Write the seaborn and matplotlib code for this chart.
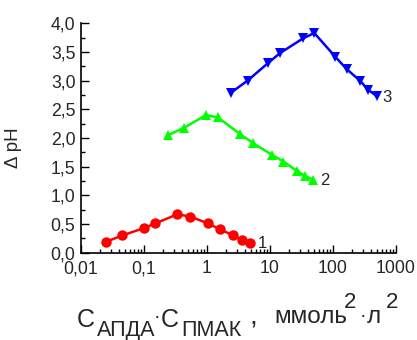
import matplotlib
matplotlib.use("Agg")
import matplotlib.pyplot as plt
import matplotlib.ticker as mticker
import seaborn as sns
import pandas as pd
import numpy as np

sns.set_theme(style="white")
plt.rcParams['font.family'] = ['Liberation Sans', 'DejaVu Sans']

# Data
x1 = [0.025, 0.045, 0.10, 0.15, 0.34, 0.54, 1.04, 1.6, 2.6, 3.6, 4.8]
y1 = [0.19, 0.30, 0.43, 0.51, 0.67, 0.63, 0.51, 0.41, 0.30, 0.22, 0.17]
x2 = [0.243, 0.436, 0.96, 1.48, 3.34, 5.4, 10.6, 16.3, 26.5, 36.0, 48.6]
y2 = [2.05, 2.18, 2.40, 2.36, 2.07, 1.91, 1.71, 1.59, 1.43, 1.34, 1.27]
x3 = [2.4, 4.4, 9.4, 14.4, 33.8, 50.5, 108, 165, 268, 363, 494]
y3 = [2.79, 3.00, 3.31, 3.48, 3.74, 3.83, 3.42, 3.20, 3.00, 2.84, 2.73]
series_names = ["1", "2", "3"]
colors = ["#FF0000", "#00FF00", "#0000FF"]
markers = ["o", "^", "v"]
xticks = [0.01, 0.1, 1, 10, 100, 1000]
xticklabels = ["0,01", "0,1", "1", "10", "100", "1000"]
yticks = [0.0, 0.5, 1.0, 1.5, 2.0, 2.5, 3.0, 3.5, 4.0]
yticklabels = ["0,0", "0,5", "1,0", "1,5", "2,0", "2,5", "3,0", "3,5", "4,0"]

df = pd.concat([
    pd.DataFrame({"x": x1, "y": y1, "s": "1"}),
    pd.DataFrame({"x": x2, "y": y2, "s": "2"}),
    pd.DataFrame({"x": x3, "y": y3, "s": "3"}),
])

W, H = 417, 340
fig = plt.figure(figsize=(W / 100, H / 100), dpi=100)
ax = fig.add_axes([81 / W, 1 - 252.7 / H, (396 - 81) / W, (252.7 - 23.3) / H])

sns.lineplot(data=df, x="x", y="y", hue="s", style="s",
             palette=dict(zip(series_names, colors)),
             markers=dict(zip(series_names, markers)), dashes=False,
             markersize=7.5, markeredgewidth=0, linewidth=1.8,
             legend=False, ax=ax, sort=False)

ax.set_xscale("log")
ax.set_xlim(0.01, 1000)
ax.set_ylim(0, 4.0)
ax.set_xticks(xticks)
ax.set_xticklabels(xticklabels)
ax.set_yticks(yticks)
ax.set_yticklabels(yticklabels)
ax.xaxis.set_minor_locator(mticker.LogLocator(base=10, subs=np.arange(2, 10)))
ax.xaxis.set_minor_formatter(mticker.NullFormatter())
ax.yaxis.set_minor_locator(mticker.MultipleLocator(0.25))
ax.tick_params(which="major", direction="in", length=6, width=1, color="black",
               labelsize=12.7, pad=4, bottom=True, left=True)
ax.tick_params(which="minor", direction="in", length=3, width=1, color="black",
               bottom=True, left=True)
ax.tick_params(axis="x", pad=5.5)
for side in ["top", "right"]:
    ax.spines[side].set_visible(False)
for side in ["left", "bottom"]:
    ax.spines[side].set_color("black")
    ax.spines[side].set_linewidth(1.2)
ax.set_xlabel("")
ax.set_ylabel("Δ pH", fontsize=13.5)
ax.yaxis.set_label_coords((21.5 - 81) / 315, (252.7 - 148) / 229.4)

# series number labels
for name, xs, ys, dx in [("1", x1, y1, 8), ("2", x2, y2, 7), ("3", x3, y3, 6)]:
    ax.annotate(name, (xs[-1], ys[-1]), xytext=(dx, -1), textcoords="offset pixels",
                fontsize=12, va="center", ha="left")

# x-axis label composed of pieces (pixel positions)
def ftxt(px, py, s, size, ha="left", va="baseline"):
    fig.text(px / W, 1 - py / H, s, fontsize=size, ha=ha, va=va)

ftxt(77, 327, "C", 18)
ftxt(97, 336, "АПДА", 15.5)
ftxt(154, 322, "·", 14)
ftxt(161, 327, "C", 18)
ftxt(181, 336, "ПМАК", 15.5)
ftxt(249, 325, ",", 20)
ftxt(274, 323, "ммоль", 17.5)
ftxt(344, 308, "2", 16)
ftxt(360, 321, "·", 14)
ftxt(367, 323, "л", 17.5)
ftxt(386, 308, "2", 16)

fig.savefig("out.png", dpi=100)
